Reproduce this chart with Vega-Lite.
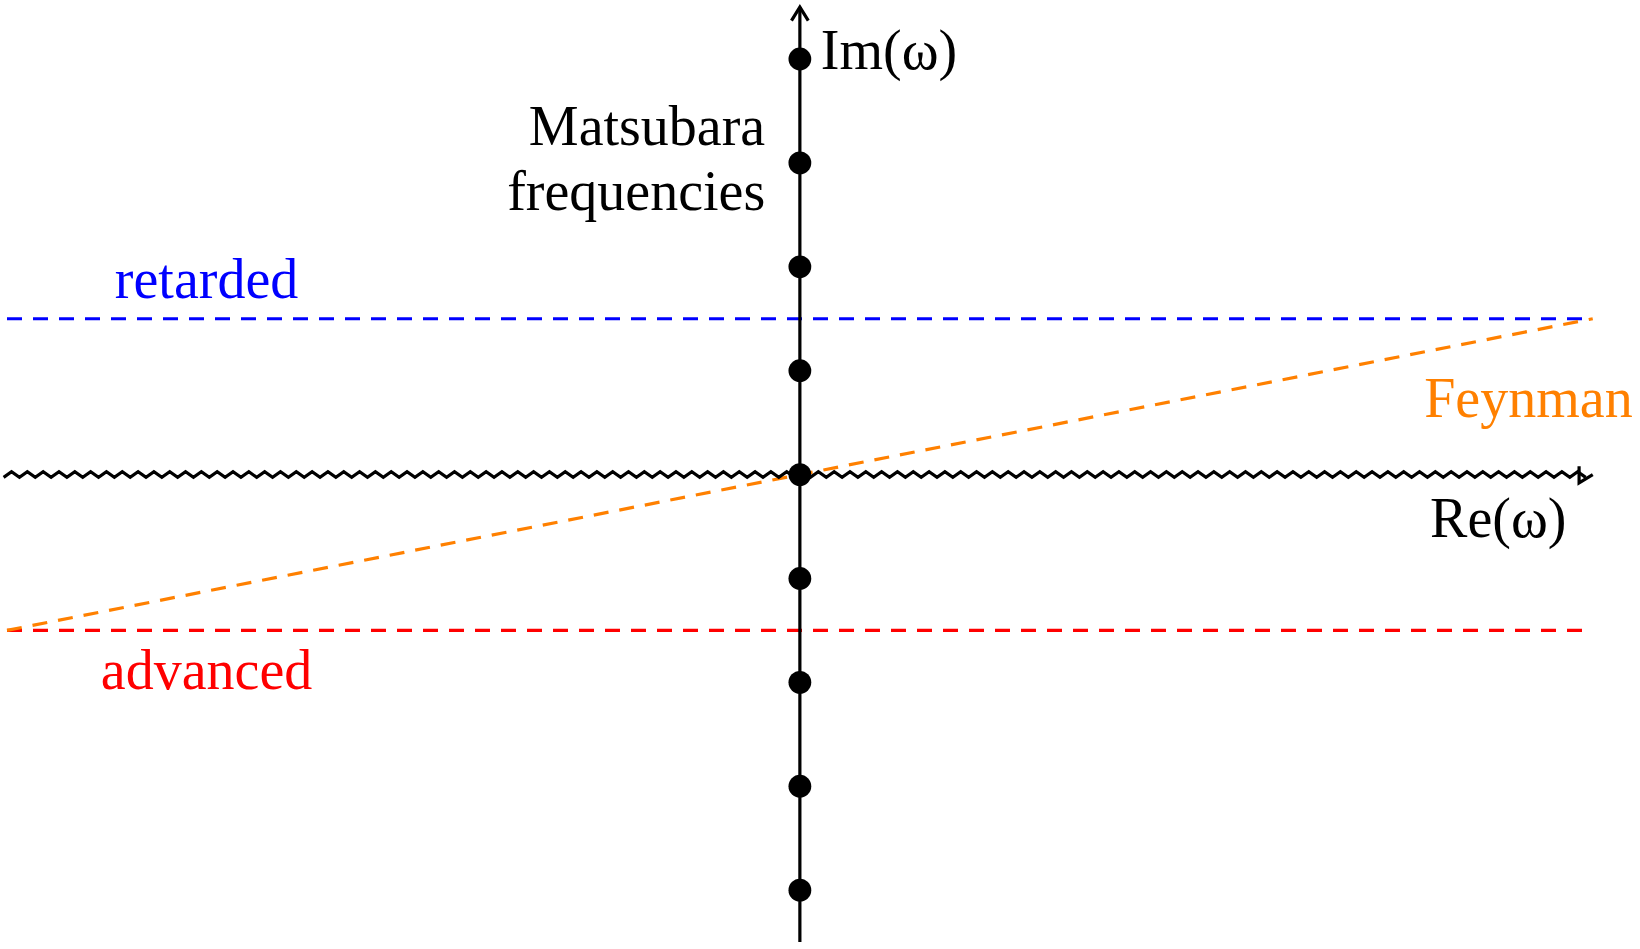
{
  "$schema": "https://vega.github.io/schema/vega-lite/v6.json",
  "width": 1640,
  "height": 949,
  "autosize": {"type": "fit", "contains": "padding"},
  "padding": 0,
  "config": {"view": {"stroke": null}},
  "datasets": {
    "lines": [
      {"id": "ret", "series": "retarded", "x": -7.55, "y": 1.5},
      {"id": "ret", "series": "retarded", "x": 7.55, "y": 1.5},
      {"id": "adv", "series": "advanced", "x": -7.55, "y": -1.5},
      {"id": "adv", "series": "advanced", "x": 7.55, "y": -1.5},
      {"id": "fey", "series": "Feynman", "x": -7.55, "y": -1.5},
      {"id": "fey", "series": "Feynman", "x": 7.55, "y": 1.5}
    ],
    "axes": [
      {"id": "im", "x": 0, "y": -4.5},
      {"id": "im", "x": 0, "y": 4.5},
      {"id": "imhead", "x": -0.08, "y": 4.37},
      {"id": "imhead", "x": 0, "y": 4.5},
      {"id": "imhead", "x": 0.08, "y": 4.37},
      {"id": "rehead", "x": 7.42, "y": 0.08},
      {"id": "rehead", "x": 7.55, "y": 0},
      {"id": "rehead", "x": 7.42, "y": -0.08}
    ],
    "poles": [
      {"x": 0, "y": 4}, {"x": 0, "y": 3}, {"x": 0, "y": 2}, {"x": 0, "y": 1},
      {"x": 0, "y": 0}, {"x": 0, "y": -1}, {"x": 0, "y": -2}, {"x": 0, "y": -3},
      {"x": 0, "y": -4}
    ],
    "cut": [{"x": -0.05, "y": 0}],
    "labels": [
      {"text": "Im(ω)", "series": "axis", "align": "left", "x": 0.2, "y": 3.9},
      {"text": "Matsubara", "series": "axis", "align": "right", "x": -0.33, "y": 3.17},
      {"text": "frequencies", "series": "axis", "align": "right", "x": -0.33, "y": 2.55},
      {"text": "retarded", "series": "retarded", "align": "center", "x": -5.65, "y": 1.7},
      {"text": "advanced", "series": "advanced", "align": "center", "x": -5.65, "y": -2.06},
      {"text": "Feynman", "series": "Feynman", "align": "right", "x": 7.93, "y": 0.55},
      {"text": "Re(ω)", "series": "axis", "align": "right", "x": 7.3, "y": -0.6}
    ]
  },
  "encoding": {
    "x": {"field": "x", "type": "quantitative", "scale": {"domain": [-7.55, 8.0], "nice": false, "zero": false}, "axis": null},
    "y": {"field": "y", "type": "quantitative", "scale": {"domain": [-4.48, 4.52], "nice": false, "zero": false}, "axis": null}
  },
  "layer": [
    {
      "data": {"name": "lines"},
      "mark": {"type": "line", "strokeWidth": 3.2, "strokeDash": [15, 11]},
      "encoding": {
        "detail": {"field": "id"},
        "color": {"field": "series", "type": "nominal", "legend": null,
          "scale": {"domain": ["axis", "retarded", "advanced", "Feynman"], "range": ["#000000", "#0000ff", "#ff0000", "#ff8000"]}}
      }
    },
    {
      "data": {"name": "axes"},
      "mark": {"type": "line", "strokeWidth": 3.2, "color": "black"},
      "encoding": {"detail": {"field": "id"}}
    },
    {
      "data": {"name": "cut"},
      "mark": {"type": "point", "filled": false, "color": "black", "strokeWidth": 3.2, "opacity": 1, "size": 2502724,
        "shape": "M-1,0.0035 l0.01,-0.007 l0.01,0.007 l0.01,-0.007 l0.01,0.007 l0.01,-0.007 l0.01,0.007 l0.01,-0.007 l0.01,0.007 l0.01,-0.007 l0.01,0.007 l0.01,-0.007 l0.01,0.007 l0.01,-0.007 l0.01,0.007 l0.01,-0.007 l0.01,0.007 l0.01,-0.007 l0.01,0.007 l0.01,-0.007 l0.01,0.007 l0.01,-0.007 l0.01,0.007 l0.01,-0.007 l0.01,0.007 l0.01,-0.007 l0.01,0.007 l0.01,-0.007 l0.01,0.007 l0.01,-0.007 l0.01,0.007 l0.01,-0.007 l0.01,0.007 l0.01,-0.007 l0.01,0.007 l0.01,-0.007 l0.01,0.007 l0.01,-0.007 l0.01,0.007 l0.01,-0.007 l0.01,0.007 l0.01,-0.007 l0.01,0.007 l0.01,-0.007 l0.01,0.007 l0.01,-0.007 l0.01,0.007 l0.01,-0.007 l0.01,0.007 l0.01,-0.007 l0.01,0.007 l0.01,-0.007 l0.01,0.007 l0.01,-0.007 l0.01,0.007 l0.01,-0.007 l0.01,0.007 l0.01,-0.007 l0.01,0.007 l0.01,-0.007 l0.01,0.007 l0.01,-0.007 l0.01,0.007 l0.01,-0.007 l0.01,0.007 l0.01,-0.007 l0.01,0.007 l0.01,-0.007 l0.01,0.007 l0.01,-0.007 l0.01,0.007 l0.01,-0.007 l0.01,0.007 l0.01,-0.007 l0.01,0.007 l0.01,-0.007 l0.01,0.007 l0.01,-0.007 l0.01,0.007 l0.01,-0.007 l0.01,0.007 l0.01,-0.007 l0.01,0.007 l0.01,-0.007 l0.01,0.007 l0.01,-0.007 l0.01,0.007 l0.01,-0.007 l0.01,0.007 l0.01,-0.007 l0.01,0.007 l0.01,-0.007 l0.01,0.007 l0.01,-0.007 l0.01,0.007 l0.01,-0.007 l0.01,0.007 l0.01,-0.007 l0.01,0.007 l0.01,-0.007 l0.01,0.007 l0.01,-0.007 l0.01,0.007 l0.01,-0.007 l0.01,0.007 l0.01,-0.007 l0.01,0.007 l0.01,-0.007 l0.01,0.007 l0.01,-0.007 l0.01,0.007 l0.01,-0.007 l0.01,0.007 l0.01,-0.007 l0.01,0.007 l0.01,-0.007 l0.01,0.007 l0.01,-0.007 l0.01,0.007 l0.01,-0.007 l0.01,0.007 l0.01,-0.007 l0.01,0.007 l0.01,-0.007 l0.01,0.007 l0.01,-0.007 l0.01,0.007 l0.01,-0.007 l0.01,0.007 l0.01,-0.007 l0.01,0.007 l0.01,-0.007 l0.01,0.007 l0.01,-0.007 l0.01,0.007 l0.01,-0.007 l0.01,0.007 l0.01,-0.007 l0.01,0.007 l0.01,-0.007 l0.01,0.007 l0.01,-0.007 l0.01,0.007 l0.01,-0.007 l0.01,0.007 l0.01,-0.007 l0.01,0.007 l0.01,-0.007 l0.01,0.007 l0.01,-0.007 l0.01,0.007 l0.01,-0.007 l0.01,0.007 l0.01,-0.007 l0.01,0.007 l0.01,-0.007 l0.01,0.007 l0.01,-0.007 l0.01,0.007 l0.01,-0.007 l0.01,0.007 l0.01,-0.007 l0.01,0.007 l0.01,-0.007 l0.01,0.007 l0.01,-0.007 l0.01,0.007 l0.01,-0.007 l0.01,0.007 l0.01,-0.007 l0.01,0.007 l0.01,-0.007 l0.01,0.007 l0.01,-0.007 l0.01,0.007 l0.01,-0.007 l0.01,0.007 l0.01,-0.007 l0.01,0.007 l0.01,-0.007 l0.01,0.007 l0.01,-0.007 l0.01,0.007 l0.01,-0.007 l0.01,0.007 l0.01,-0.007 l0.01,0.007 l0.01,-0.007 l0.01,0.007 l0.01,-0.007 l0.01,0.007 l0.01,-0.007 l0.01,0.007 l0.01,-0.007 l0.01,0.007 l0.01,-0.007 l0.01,0.007 l0.01,-0.007 l0.01,0.007 l0.01,-0.007 l0.01,0.007"}
    },
    {
      "data": {"name": "poles"},
      "mark": {"type": "circle", "size": 520, "color": "black", "opacity": 1}
    },
    {
      "data": {"name": "labels"},
      "transform": [{"filter": "datum.align === 'left'"}],
      "mark": {"type": "text", "font": "Liberation Serif", "fontSize": 56, "baseline": "alphabetic", "align": "left"},
      "encoding": {
        "text": {"field": "text"},
        "color": {"field": "series", "type": "nominal", "legend": null,
          "scale": {"domain": ["axis", "retarded", "advanced", "Feynman"], "range": ["#000000", "#0000ff", "#ff0000", "#ff8000"]}}
      }
    },
    {
      "data": {"name": "labels"},
      "transform": [{"filter": "datum.align === 'center'"}],
      "mark": {"type": "text", "font": "Liberation Serif", "fontSize": 56, "baseline": "alphabetic", "align": "center"},
      "encoding": {
        "text": {"field": "text"},
        "color": {"field": "series", "type": "nominal", "legend": null,
          "scale": {"domain": ["axis", "retarded", "advanced", "Feynman"], "range": ["#000000", "#0000ff", "#ff0000", "#ff8000"]}}
      }
    },
    {
      "data": {"name": "labels"},
      "transform": [{"filter": "datum.align === 'right'"}],
      "mark": {"type": "text", "font": "Liberation Serif", "fontSize": 56, "baseline": "alphabetic", "align": "right"},
      "encoding": {
        "text": {"field": "text"},
        "color": {"field": "series", "type": "nominal", "legend": null,
          "scale": {"domain": ["axis", "retarded", "advanced", "Feynman"], "range": ["#000000", "#0000ff", "#ff0000", "#ff8000"]}}
      }
    }
  ]
}
